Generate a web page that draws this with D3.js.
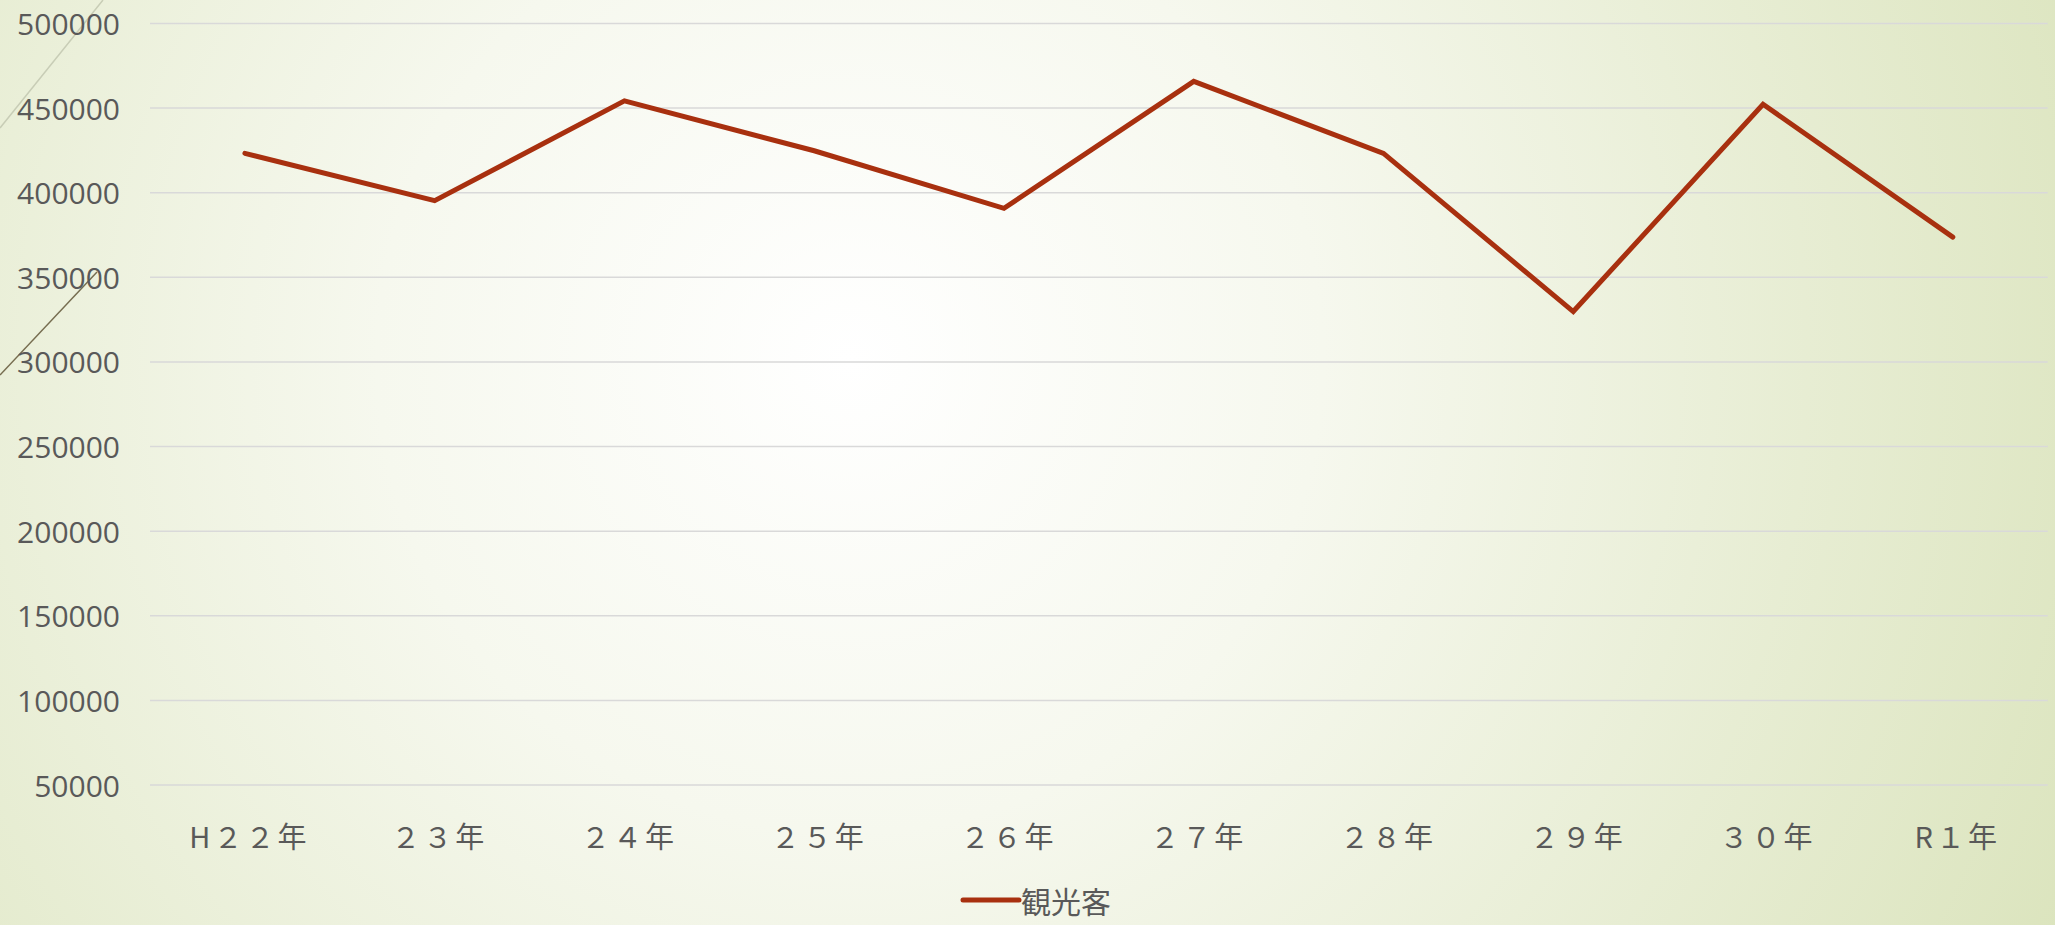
<!DOCTYPE html>
<html>
<head>
<meta charset="utf-8">
<script src="https://cdn.jsdelivr.net/npm/d3@7"></script>
<style>
  html, body { margin: 0; padding: 0; overflow: hidden; }
  svg { display: block; }
</style>
</head>
<body>
<div id="chart"></div>
<script>
// data
const years = ["H２２年", "２３年", "２４年", "２５年", "２６年", "２７年", "２８年", "２９年", "３０年", "R１年"];
const visitors = [423000, 395000, 454000, 424500, 390500, 465500, 423000, 329500, 452000, 373500];
const yTicks = [50000, 100000, 150000, 200000, 250000, 300000, 350000, 400000, 450000, 500000];
const seriesName = "観光客";

var width = 2055
var height = 925
var lineColor = "#a8300f"
var textColor = "#595959"

var svg = d3.select("#chart")
  .append("svg")
    .attr("width", width)
    .attr("height", height)

// background, white glow fading to pale green
var defs = svg.append("defs")
var grad = defs.append("radialGradient")
    .attr("id", "bg")
    .attr("gradientUnits", "userSpaceOnUse")
    .attr("cx", 850).attr("cy", 360).attr("r", 1350)
grad.append("stop").attr("offset", "0%").attr("stop-color", "#ffffff")
grad.append("stop").attr("offset", "35%").attr("stop-color", "#f6f8ee")
grad.append("stop").attr("offset", "100%").attr("stop-color", "#dbe4bd")

svg.append("rect")
    .attr("width", width)
    .attr("height", height)
    .attr("fill", "url(#bg)")

// theme decoration in the top left corner
svg.append("line")
    .attr("x1", 0).attr("y1", 128).attr("x2", 103).attr("y2", 0)
    .attr("stroke", "#c8cdb6").attr("stroke-width", 1.5)
svg.append("line")
    .attr("x1", 0).attr("y1", 375).attr("x2", 97).attr("y2", 272)
    .attr("stroke", "#766d50").attr("stroke-width", 1.5)

// scales
var x = d3.scalePoint()
    .domain(years)
    .range([150, 2047.7])
    .padding(0.5)

var y = d3.scaleLinear()
    .domain([50000, 500000])
    .range([784.6, 23])

// gridlines + y labels
var yAxis = svg.append("g")
    .attr("transform", "translate(150,0)")
    .call(d3.axisLeft(y)
      .tickValues(yTicks)
      .tickFormat(d3.format("d"))
      .tickSize(-(2047.7 - 150))
      .tickPadding(30))
yAxis.select(".domain").remove()
yAxis.selectAll(".tick line")
    .attr("stroke", "#d9d9d9")
    .attr("stroke-width", 1.5)
yAxis.selectAll(".tick text")
    .attr("fill", textColor)
    .attr("dy", null)
    .attr("dominant-baseline", "central")
    .style("font-family", "'Open Sans', sans-serif")
    .style("font-weight", 400)
    .style("font-size", "30px")

// x labels
var xAxis = svg.append("g")
    .attr("transform", "translate(0,835)")
    .call(d3.axisBottom(x).tickSize(0).tickPadding(0))
xAxis.select(".domain").remove()
xAxis.selectAll(".tick text")
    .attr("fill", textColor)
    .attr("y", 0)
    .attr("dy", null)
    .attr("dx", 4)
    .attr("dominant-baseline", "central")
    .style("font-family", "'Noto Sans CJK JP', sans-serif")
    .style("font-size", "29px")
    .style("letter-spacing", "3px")

// the series line
var line = d3.line()
    .x(function(d, i){ return x(years[i]); })
    .y(function(d){ return y(d); })

svg.append("path")
    .datum(visitors)
    .attr("d", line)
    .attr("fill", "none")
    .attr("stroke", lineColor)
    .attr("stroke-width", 5)
    .attr("stroke-linejoin", "miter")
    .attr("stroke-linecap", "round")

// legend (kept just inside the bottom edge)
var legend = svg.append("g")
    .attr("transform", "translate(963,900)")
legend.append("line")
    .attr("x1", 0).attr("x2", 56)
    .attr("stroke", lineColor)
    .attr("stroke-width", 5)
    .attr("stroke-linecap", "round")
legend.append("text")
    .attr("x", 58)
    .attr("y", 0)
    .attr("dominant-baseline", "central")
    .attr("fill", textColor)
    .style("font-family", "'Noto Sans CJK JP', sans-serif")
    .style("font-size", "30px")
    .text(seriesName)
</script>
</body>
</html>
